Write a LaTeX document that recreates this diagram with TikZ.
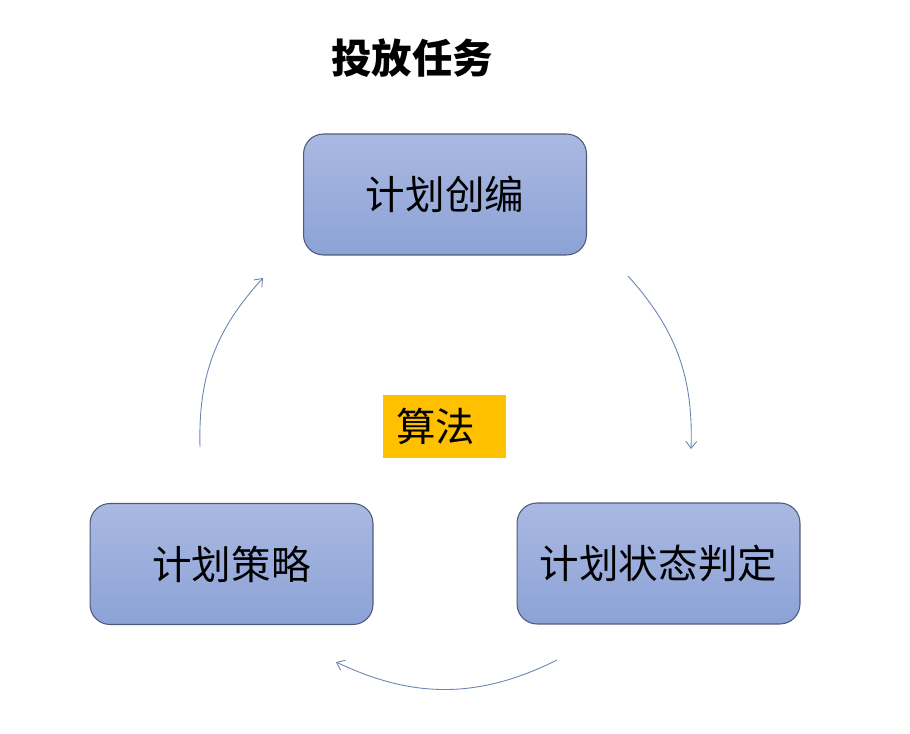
\documentclass[tikz,border=0pt]{standalone}
\usepackage{fontspec}
\newfontfamily\cjk{Noto Sans CJK SC}
\usepackage{tikz}
\usetikzlibrary{calc,positioning,shapes}
\usetikzlibrary{arrows.meta}
\tikzset{>={Straight Barb[width=2.2mm,length=1.4mm]}}
\definecolor{boxtop}{RGB}{170,185,226}
\definecolor{boxbot}{RGB}{140,162,214}
\definecolor{boxline}{RGB}{80,90,120}
\definecolor{arcline}{RGB}{105,132,178}
\definecolor{algoyellow}{RGB}{255,192,0}

\begin{document}
\begin{tikzpicture}[x=0.02cm, y=0.02cm]
        \useasboundingbox (0,0) rectangle (910,-734);
        \tikzstyle{pnode} = [draw=boxline, line width=0.6pt, rounded corners=0.4cm, top color=boxtop, bottom color=boxbot,
                             minimum width=5.66cm, minimum height=2.42cm, inner sep=0pt, font=\cjk\fontsize{22.5}{26}\selectfont]
        \tikzstyle{arc} = [->, arcline, line width=0.5pt]

        \node[font=\cjk\bfseries\fontsize{23}{27}\selectfont] (title) at (412,-58) {投放任务};
        \node[pnode] (create) at (445,-194.5) {计划创编};
        \node[pnode] (state) at (658.5,-563.5) {计划状态判定};
        \node[pnode] (policy) at (231.5,-564) {计划策略};
        \node[fill=algoyellow, text width=1.94cm, align=left, inner xsep=0.26cm, inner ysep=0pt, minimum height=1.26cm,
              font=\cjk\fontsize{22.5}{26}\selectfont] (algo) at (444.5,-426.5) {算法};

        \coordinate (a1) at (628,-276);
        \coordinate (b1) at (691,-449);
        \coordinate (a2) at (557,-660);
        \coordinate (b2) at (336,-662);
        \coordinate (a3) at (200,-447);
        \coordinate (b3) at (263,-278);

        \draw[arc] (a1) to[bend left=22] (b1);
        \draw[arc] (a2) to[bend left=26] (b2);
        \draw[arc] (a3) to[bend left=22] (b3);
      \end{tikzpicture}
\end{document}
